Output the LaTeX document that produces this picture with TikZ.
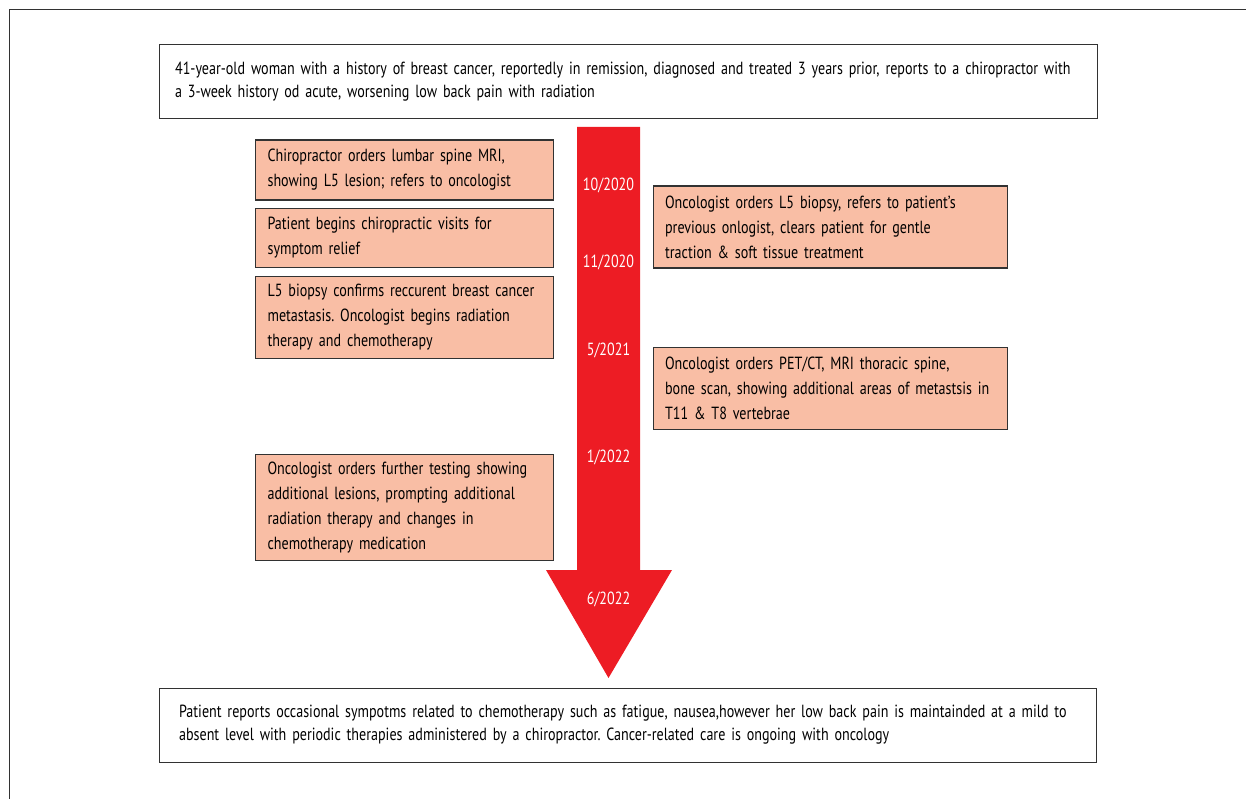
\documentclass[tikz,border=0pt]{standalone}
\usepackage{fontspec}
\setmainfont{PT Sans}[FakeStretch=0.8, WordSpace=0.85]
\frenchspacing
\usetikzlibrary{positioning}
\definecolor{evtfill}{RGB}{249,190,165}
\definecolor{boxline}{RGB}{50,50,50}
\definecolor{timered}{RGB}{237,28,36}

\begin{document}
\begin{tikzpicture}[
  x=1pt, y=-1pt,
  font=\fontsize{17.6}{25}\selectfont,
  box/.style={draw=boxline, line width=1.2pt, align=left, anchor=north west,
              inner ysep=0pt},
  evt/.style={box, fill=evtfill, inner xsep=12pt},
  evtl/.style={evt, text width=274pt},
  evtr/.style={evt, text width=330pt},
  summ/.style={box, fill=white, font=\fontsize{17.6}{23}\selectfont},
  date/.style={text=white},
]
\useasboundingbox (0,0) rectangle (1246,799);

% page frame (cropped)
\draw[boxline, line width=1.2pt] (9.5,799) -- (9.5,9.5) -- (1246,9.5);

% timeline arrow
\fill[timered] (577,127) -- (640,127) -- (640,570) -- (672,570) -- (608.5,678)
  -- (546,570) -- (577,570) -- cycle;

\node[date] (d1) at (608.5,185) {10/2020};
\node[date] (d2) at (608.5,262) {11/2020};
\node[date] (d3) at (608.5,350) {5/2021};
\node[date] (d4) at (608.5,457) {1/2022};
\node[date] (d5) at (608.5,599) {6/2022};

% presentation
\node[summ, inner xsep=16pt, text width=906pt, minimum height=74pt] (pres) at (158.5,44)
  {41-year-old woman with a history of breast cancer, reportedly in remission, diagnosed and treated 3 years prior, reports to a chiropractor with\\
   a 3-week history od acute, worsening low back pain with radiation};

% left events
\node[evtl, minimum height=60pt] (mri) at (255,139.5)
  {Chiropractor orders lumbar spine MRI,\\showing L5 lesion; refers to oncologist};
\node[evtl, minimum height=59pt, below=7pt of mri.south west, anchor=north west] (visits)
  {Patient begins chiropractic visits for\\symptom relief};
\node[evtl, minimum height=82pt, below=8pt of visits.south west, anchor=north west] (confirm)
  {L5 biopsy confirms reccurent breast cancer\\metastasis. Oncologist begins radiation\\therapy and chemotherapy};
\node[evtl, minimum height=106pt] (further) at (255,454)
  {Oncologist orders further testing showing\\additional lesions, prompting additional\\radiation therapy and changes in\\chemotherapy medication};

% right events
\node[evtr, minimum height=82pt] (biopsy) at (652.5,185.5)
  {Oncologist orders L5 biopsy, refers to patient’s\\previous onlogist, clears patient for gentle\\traction \& soft tissue treatment};
\node[evtr, minimum height=82pt] (petct) at (652.5,346.5)
  {Oncologist orders PET/CT, MRI thoracic spine,\\bone scan, showing additional areas of metastsis in\\T11 \& T8 vertebrae};

% outcome
\node[summ, inner xsep=20pt, text width=897pt, minimum height=74pt] (outcome) at (158.5,687.5)
  {Patient reports occasional sympotms related to chemotherapy such as fatigue, nausea,however her low back pain is maintainded at a mild to\\
   absent level with periodic therapies administered by a chiropractor. Cancer-related care is ongoing with oncology};
\end{tikzpicture}
\end{document}
